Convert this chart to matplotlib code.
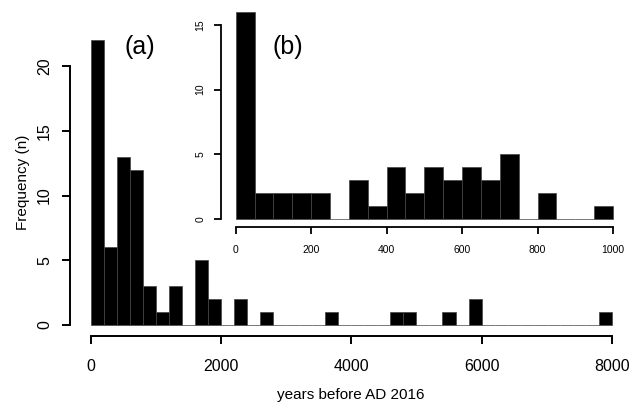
import numpy as np
import matplotlib
matplotlib.use("Agg")
import matplotlib.pyplot as plt

plt.rcParams['font.family'] = ['Liberation Sans', 'DejaVu Sans']

# (a) all ages, 200-year bins from 0 to 8000
main_width = 200
main_counts = [22, 6, 13, 12, 3, 1, 3, 0, 5, 2,
               0, 2, 0, 1, 0, 0, 0, 0, 1, 0,
               0, 0, 0, 1, 1, 0, 0, 1, 0, 2,
               0, 0, 0, 0, 0, 0, 0, 0, 0, 1]
main_xticks = [0, 2000, 4000, 6000, 8000]
main_yticks = [0, 5, 10, 15, 20]

# (b) first 1000 years, 50-year bins
inset_width = 50
inset_counts = [16, 2, 2, 2, 2, 0, 3, 1, 4, 2,
                4, 3, 4, 3, 5, 0, 2, 0, 0, 1]
inset_xticks = [0, 200, 400, 600, 800, 1000]
inset_yticks = [0, 5, 10, 15]

W, H = 631, 403
fig = plt.figure(figsize=(W / 100, H / 100), dpi=100)


def r_style(ax, xticks, yticks, lw, ticklen, size, xpad, ypad):
    # base-R look: open axes, spines only over the tick range
    for s in ['top', 'right']:
        ax.spines[s].set_visible(False)
    ax.spines['left'].set_bounds(yticks[0], yticks[-1])
    ax.spines['bottom'].set_bounds(xticks[0], xticks[-1])
    for s in ['left', 'bottom']:
        ax.spines[s].set_linewidth(lw)
    ax.set_xticks(xticks)
    ax.set_yticks(yticks)
    ax.tick_params(width=lw, length=ticklen, labelsize=size)
    ax.tick_params(axis='x', pad=xpad)
    ax.tick_params(axis='y', pad=ypad)
    for lab in ax.get_yticklabels():
        lab.set_rotation(90)
        lab.set_va('center')


# main histogram
ax = fig.add_axes([70 / W, 1 - 336.4 / H, (631 - 70) / W, (336.4 - 28.7) / H])
edges = np.arange(len(main_counts)) * main_width
ax.bar(edges, main_counts, width=main_width, align='edge',
       color='black', edgecolor='#444444', linewidth=0.5)
ax.set_xlim(-320, 8295)
ax.set_ylim(-0.88, 22.88)
r_style(ax, main_xticks, main_yticks, 1.4, 6, 11.5, 10, 7)
ax.set_xlabel('years before AD 2016', fontsize=11, labelpad=10)
ax.set_ylabel('Frequency (n)', fontsize=11, labelpad=5)

# inset histogram
ax2 = fig.add_axes([220.6 / W, 1 - 227.3 / H, (628.1 - 220.6) / W, (227.3 - 3.8) / H])
ax2.patch.set_alpha(0)
edges2 = np.arange(len(inset_counts)) * inset_width
ax2.bar(edges2, inset_counts, width=inset_width, align='edge',
        color='black', edgecolor='#444444', linewidth=0.5)
ax2.set_xlim(-40, 1040)
ax2.set_ylim(-0.64, 16.64)
r_style(ax2, inset_xticks, inset_yticks, 1.3, 5, 7.5, 8, 6)

fig.text(140 / W, 1 - 47 / H, '(a)', fontsize=18, ha='center', va='center')
fig.text(288 / W, 1 - 47 / H, '(b)', fontsize=18, ha='center', va='center')

fig.savefig('out.png', dpi=100)
